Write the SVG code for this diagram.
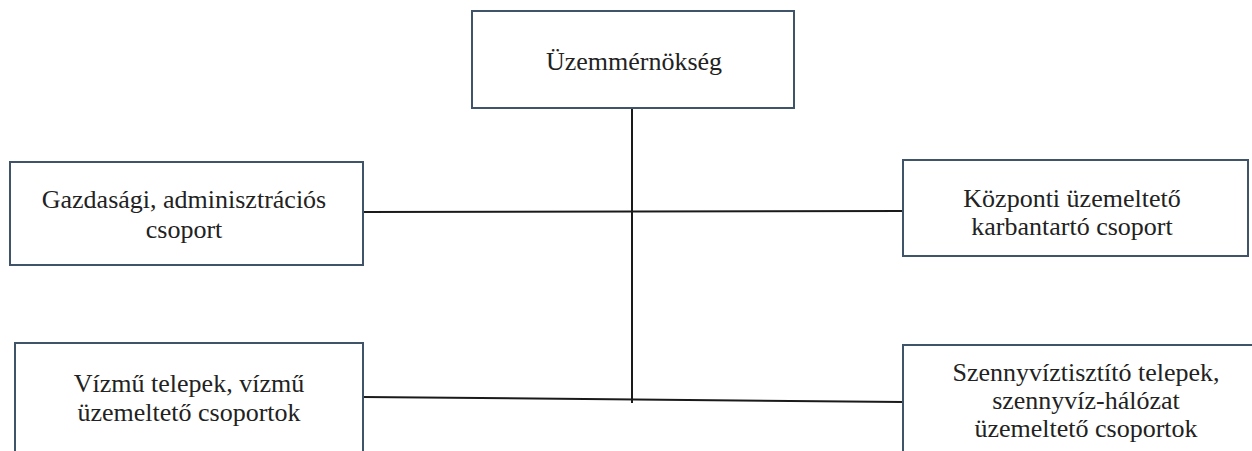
<svg xmlns="http://www.w3.org/2000/svg" width="1252" height="451" viewBox="0 0 1252 451">
  <style>
    .box { fill: #ffffff; stroke: #3f5468; stroke-width: 2; }
    .lbl { font-family: "Liberation Serif", "Times New Roman", serif; font-size: 26px; fill: #222222; text-anchor: middle; }
    .wire { stroke: #1a1a1a; stroke-width: 2; fill: none; }
  </style>
  <rect width="1252" height="451" fill="#ffffff"/>

  <g id="connectors">
    <line class="wire" x1="632" y1="108" x2="632" y2="403"/>
    <line class="wire" x1="363" y1="212" x2="903" y2="211"/>
    <line class="wire" x1="363" y1="397" x2="903" y2="402"/>
  </g>

  <g id="node-uzemmernokseg">
    <rect class="box" x="472" y="11" width="322" height="97"/>
    <text class="lbl" x="634" y="70">Üzemmérnökség</text>
  </g>

  <g id="node-gazdasagi">
    <rect class="box" x="10" y="162" width="353" height="103"/>
    <text class="lbl" x="184" y="208">Gazdasági, adminisztrációs</text>
    <text class="lbl" x="184" y="238">csoport</text>
  </g>

  <g id="node-kozponti">
    <rect class="box" x="903" y="160" width="345" height="96"/>
    <text class="lbl" x="1072" y="207">Központi üzemeltető</text>
    <text class="lbl" x="1072" y="235">karbantartó csoport</text>
  </g>

  <g id="node-vizmu">
    <rect class="box" x="15" y="343" width="348" height="120"/>
    <text class="lbl" x="189" y="392">Vízmű telepek, vízmű</text>
    <text class="lbl" x="189" y="421">üzemeltető csoportok</text>
  </g>

  <g id="node-szennyviz">
    <rect class="box" x="903" y="345" width="370" height="120"/>
    <text class="lbl" x="1086" y="381">Szennyvíztisztító telepek,</text>
    <text class="lbl" x="1086" y="409">szennyvíz-hálózat</text>
    <text class="lbl" x="1086" y="437">üzemeltető csoportok</text>
  </g>
</svg>
